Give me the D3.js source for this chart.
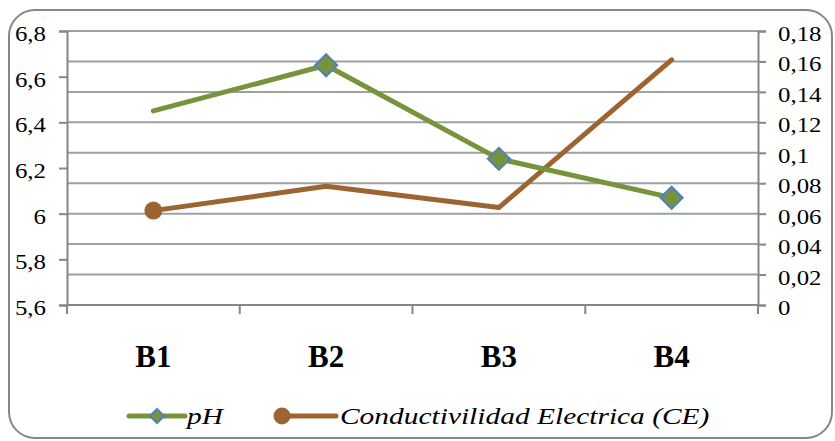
<!DOCTYPE html>
<html>
<head>
<meta charset="utf-8">
<script src="https://cdn.jsdelivr.net/npm/d3@7/dist/d3.min.js"></script>
<style>
  html, body { margin: 0; padding: 0; background: #fff; }
  svg { display: block; }
  text { font-family: "Liberation Serif", "Times New Roman", serif; fill: #000; }
</style>
</head>
<body>
<svg id="chart" width="835" height="441"></svg>
<script>
// Sampling points
const categories = ["B1", "B2", "B3", "B4"];
// pH (left axis)
const phValues = [6.45, 6.65, 6.24, 6.07];
// Electrical conductivity (right axis)
const ceValues = [0.062, 0.078, 0.064, 0.161];
// Which points carry a marker
const phMarkers = [false, true, true, true];
const ceMarkers = [true, false, false, false];
// Axis ticks
const leftTicks = [5.6, 5.8, 6.0, 6.2, 6.4, 6.6, 6.8];
const rightTicks = [0, 0.02, 0.04, 0.06, 0.08, 0.1, 0.12, 0.14, 0.16, 0.18];
const seriesNames = ["pH", "Conductivilidad Electrica (CE)"];

const GREEN = "#77933C", BLUE = "#4F81BD", BROWN = "#9C6431";
const AXIS = "#868686", GRID = "#a0a0a0";
const SERIF = "'Liberation Serif', 'Times New Roman', serif";

const svg = d3.select("#chart");
const plot = { left: 67, right: 758, top: 31, bottom: 305 };

const x = d3.scaleBand().domain(categories).range([plot.left, plot.right]);
const yL = d3.scaleLinear().domain([5.6, 6.8]).range([plot.bottom, plot.top]);
const yR = d3.scaleLinear().domain([0, 0.18]).range([plot.bottom, plot.top]);
const fmt = d => String(+d.toFixed(2)).replace(".", ",");

// widen text horizontally around its anchor point
function stretch(sel, k) {
  sel.each(function () {
    const t = d3.select(this);
    const ax = +t.attr("x") || 0;
    t.attr("transform", `translate(${ax},0) scale(${k},1) translate(${-ax},0)`);
  });
}

// outer frame
svg.append("rect")
  .attr("x", 9).attr("y", 10).attr("width", 823).attr("height", 428)
  .attr("rx", 26).attr("ry", 26)
  .attr("fill", "#fff").attr("stroke", AXIS).attr("stroke-width", 2);

// horizontal gridlines (secondary axis)
svg.append("g").selectAll("line")
  .data(rightTicks.filter(d => d > 0))
  .join("line")
  .attr("x1", plot.left).attr("x2", plot.right)
  .attr("y1", d => yR(d)).attr("y2", d => yR(d))
  .attr("stroke", GRID).attr("stroke-width", 2);

// left axis
const gL = svg.append("g").attr("transform", `translate(${plot.left},0)`)
  .call(d3.axisLeft(yL).tickValues(leftTicks).tickFormat(fmt).tickSizeOuter(0).tickSize(8).tickPadding(13));
// right axis
const gR = svg.append("g").attr("transform", `translate(${plot.right},0)`)
  .call(d3.axisRight(yR).tickValues(rightTicks).tickFormat(fmt).tickSizeOuter(0).tickSize(8).tickPadding(12));
// category axis, tick marks at band boundaries
const boundaries = categories.map(c => x(c)).concat([plot.right]);
const gX = svg.append("g").attr("transform", `translate(0,${plot.bottom})`);
gX.append("line").attr("x1", plot.left).attr("x2", plot.right)
  .attr("stroke", AXIS).attr("stroke-width", 2);
gX.selectAll("line.tk").data(boundaries).join("line").attr("class", "tk")
  .attr("x1", d => d).attr("x2", d => d).attr("y1", 0).attr("y2", 9)
  .attr("stroke", AXIS).attr("stroke-width", 2);
gX.selectAll("text").data(categories).join("text")
  .attr("x", d => x(d) + x.bandwidth() / 2).attr("y", 62)
  .attr("text-anchor", "middle")
  .style("font-family", SERIF)
  .style("font-size", "31px").style("font-weight", "bold")
  .text(d => d);

[gL, gR].forEach(g => {
  g.attr("font-family", null).attr("font-size", null);
  g.select(".domain").attr("stroke", AXIS).attr("stroke-width", 2);
  g.selectAll(".tick line").attr("stroke", AXIS).attr("stroke-width", 2);
  g.selectAll(".tick text")
    .style("font-family", SERIF).style("font-size", "22px")
    .attr("dy", "0.43em")
    .call(stretch, 1.13);
});

const cx = d => x(d) + x.bandwidth() / 2;

// CE line
svg.append("path")
  .datum(categories.map((c, i) => [cx(c), yR(ceValues[i])]))
  .attr("d", d3.line())
  .attr("fill", "none").attr("stroke", BROWN).attr("stroke-width", 5)
  .attr("stroke-linejoin", "round").attr("stroke-linecap", "round");
// pH line
svg.append("path")
  .datum(categories.map((c, i) => [cx(c), yL(phValues[i])]))
  .attr("d", d3.line())
  .attr("fill", "none").attr("stroke", GREEN).attr("stroke-width", 5)
  .attr("stroke-linejoin", "round").attr("stroke-linecap", "round");

const diamond = d3.symbol().type(d3.symbolDiamond2);

svg.append("g").selectAll("circle")
  .data(categories.filter((c, i) => ceMarkers[i]))
  .join("circle")
  .attr("cx", cx).attr("cy", c => yR(ceValues[categories.indexOf(c)]))
  .attr("r", 9).attr("fill", BROWN);

svg.append("g").selectAll("path")
  .data(categories.filter((c, i) => phMarkers[i]))
  .join("path")
  .attr("transform", c => `translate(${cx(c)},${yL(phValues[categories.indexOf(c)])})`)
  .attr("d", diamond.size(2 * 12.5 * 12.5))
  .attr("fill", GREEN).attr("stroke", BLUE).attr("stroke-width", 2);

// legend
const lg = svg.append("g").attr("transform", "translate(0,416)");
lg.append("line").attr("x1", 129).attr("x2", 185).attr("stroke", GREEN)
  .attr("stroke-width", 5).attr("stroke-linecap", "round");
lg.append("path").attr("transform", "translate(157,0)")
  .attr("d", d3.symbol().type(d3.symbolDiamond2).size(2 * 8 * 8)())
  .attr("fill", GREEN).attr("stroke", BLUE).attr("stroke-width", 2);
lg.append("line").attr("x1", 282).attr("x2", 336).attr("stroke", BROWN)
  .attr("stroke-width", 5).attr("stroke-linecap", "round");
lg.append("circle").attr("cx", 282).attr("r", 8.5).attr("fill", BROWN);
lg.selectAll("text").data([[187, seriesNames[0]], [340, seriesNames[1]]])
  .join("text")
  .attr("x", d => d[0]).attr("y", 8)
  .style("font-family", SERIF)
  .style("font-size", "23px").style("font-style", "italic")
  .text(d => d[1])
  .call(stretch, 1.28);
</script>
</body>
</html>
